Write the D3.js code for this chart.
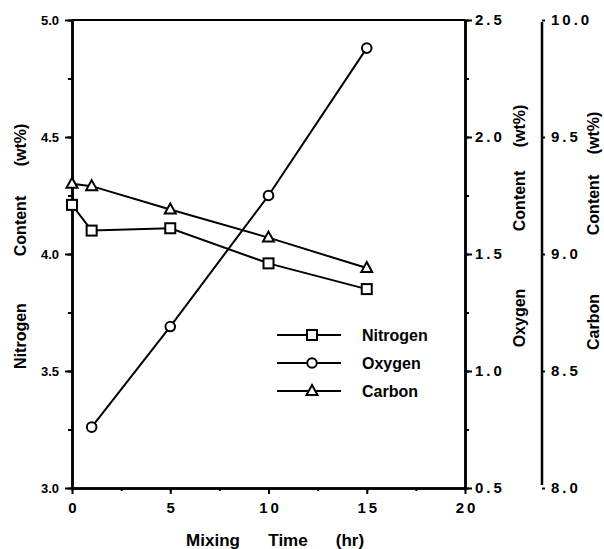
<!DOCTYPE html>
<html>
<head>
<meta charset="utf-8">
<script src="https://cdn.jsdelivr.net/npm/d3@7"></script>
<style>
  body { margin: 0; background: #fff; }
  text { font-family: "Liberation Sans", Arial, sans-serif; font-weight: bold; fill: #000; }
</style>
</head>
<body>
<div id="chart"></div>
<script>
// data
const times = [0, 1, 5, 10, 15];
const nitrogen = [4.21, 4.10, 4.11, 3.96, 3.85];
const oxygenTimes = [1, 5, 10, 15];
const oxygen = [0.76, 1.19, 1.75, 2.38];
const carbon = [9.30, 9.29, 9.19, 9.07, 8.94];

const xTicks = [0, 5, 10, 15, 20];
const nTicks = [3.0, 3.5, 4.0, 4.5, 5.0];
const oTicks = [0.5, 1.0, 1.5, 2.0, 2.5];
const cTicks = [8.0, 8.5, 9.0, 9.5, 10.0];

const width = 604, height = 549;
const plotLeft = 72, plotRight = 465, plotTop = 20, plotBottom = 488;
const axis3 = 542;

const svg = d3.select("#chart").append("svg")
  .attr("width", width)
  .attr("height", height);

const x = d3.scaleLinear().domain([0, 20]).range([plotLeft, plotRight]);
const yN = d3.scaleLinear().domain([3, 5]).range([plotBottom, plotTop]);
const yO = d3.scaleLinear().domain([0.5, 2.5]).range([plotBottom, plotTop]);
const yC = d3.scaleLinear().domain([8, 10]).range([plotBottom, plotTop]);

function styleAxis(g) {
  g.selectAll("path, line").attr("stroke", "#000");
  g.select(".domain").attr("stroke-width", 2.5);
  g.selectAll(".tick line").attr("stroke-width", 2);
  g.selectAll("text").attr("fill", "#000");
}

// minor ticks first
svg.append("g")
  .attr("transform", `translate(0,${plotBottom})`)
  .call(d3.axisBottom(x).tickValues(d3.range(0, 20.1, 2.5)).tickSize(3).tickFormat("").tickSizeOuter(0))
  .call(styleAxis);
svg.append("g")
  .attr("transform", `translate(${plotLeft},0)`)
  .call(d3.axisLeft(yN).tickValues(d3.range(3, 5.01, 0.25)).tickSize(4).tickFormat("").tickSizeOuter(0))
  .call(styleAxis);
svg.append("g")
  .attr("transform", `translate(${plotRight},0)`)
  .call(d3.axisRight(yO).tickValues(d3.range(0.5, 2.51, 0.25)).tickSize(4).tickFormat("").tickSizeOuter(0))
  .call(styleAxis);

// major axes
svg.append("g")
  .attr("transform", `translate(0,${plotBottom})`)
  .call(d3.axisBottom(x).tickValues(xTicks).tickSize(6).tickPadding(8).tickSizeOuter(0)
    .tickFormat(d => d))
  .call(styleAxis)
  .call(g => g.selectAll("text").attr("font-size", 15).attr("letter-spacing", "3px").attr("dx", "1.5px"));

svg.append("g")
  .attr("transform", `translate(${plotLeft},0)`)
  .call(d3.axisLeft(yN).tickValues(nTicks).tickSize(7).tickPadding(6).tickSizeOuter(0)
    .tickFormat(d3.format(".1f")))
  .call(styleAxis)
  .call(g => g.selectAll("text").attr("font-size", 13));

svg.append("g")
  .attr("transform", `translate(${plotRight},0)`)
  .call(d3.axisRight(yO).tickValues(oTicks).tickSize(7).tickPadding(3).tickSizeOuter(0)
    .tickFormat(d3.format(".1f")))
  .call(styleAxis)
  .call(g => g.selectAll("text").attr("font-size", 15).attr("letter-spacing", "3px"));

svg.append("g")
  .attr("transform", `translate(${axis3},0)`)
  .call(d3.axisRight(yC).tickValues(cTicks).tickSize(3).tickPadding(6).tickSizeOuter(0)
    .tickFormat(d3.format(".1f")))
  .call(styleAxis)
  .call(g => g.select(".domain").remove())
  .call(g => g.selectAll("text").attr("font-size", 15).attr("letter-spacing", "3px"));
svg.append("line")
  .attr("x1", axis3).attr("x2", axis3)
  .attr("y1", yC(10) + 2).attr("y2", yC(8) - 3)
  .attr("stroke", "#000").attr("stroke-width", 2.5);

// top frame line
svg.append("line")
  .attr("x1", plotLeft).attr("x2", plotRight)
  .attr("y1", plotTop).attr("y2", plotTop)
  .attr("stroke", "#000").attr("stroke-width", 2);

// series
const nData = times.map((t, i) => ({ t, v: nitrogen[i] }));
const oData = oxygenTimes.map((t, i) => ({ t, v: oxygen[i] }));
const cData = times.map((t, i) => ({ t, v: carbon[i] }));

const series = [
  { name: "Nitrogen", data: nData, y: yN, shape: "square" },
  { name: "Oxygen", data: oData, y: yO, shape: "circle" },
  { name: "Carbon", data: cData, y: yC, shape: "triangle" }
];

function drawMarker(g, shape, cx, cy) {
  if (shape === "square") {
    g.append("rect").attr("x", cx - 5).attr("y", cy - 5).attr("width", 10).attr("height", 10);
  } else if (shape === "circle") {
    g.append("circle").attr("cx", cx).attr("cy", cy).attr("r", 4.8);
  } else {
    g.append("path").attr("d", `M${cx},${cy - 6}L${cx + 5.5},${cy + 4}L${cx - 5.5},${cy + 4}Z`);
  }
}

series.forEach(s => {
  const line = d3.line().x(d => x(d.t)).y(d => s.y(d.v));
  svg.append("path")
    .datum(s.data)
    .attr("d", line)
    .attr("fill", "none")
    .attr("stroke", "#000")
    .attr("stroke-width", 2);
  const mg = svg.append("g").attr("fill", "#fff").attr("stroke", "#000").attr("stroke-width", 2);
  s.data.forEach(d => drawMarker(mg, s.shape, x(d.t), s.y(d.v)));
});

// legend
const legend = svg.append("g");
series.forEach((s, i) => {
  const ly = 335 + i * 28;
  legend.append("line")
    .attr("x1", 277).attr("x2", 341).attr("y1", ly).attr("y2", ly)
    .attr("stroke", "#000").attr("stroke-width", 2);
  const mg = legend.append("g").attr("fill", "#fff").attr("stroke", "#000").attr("stroke-width", 2);
  drawMarker(mg, s.shape, 312, ly);
  legend.append("text")
    .attr("x", 362).attr("y", ly + 5.5)
    .attr("font-size", 16)
    .text(s.name);
});

// axis titles, words spread out as in the original
function vTitle(cx, words) {
  words.forEach(([w, cy]) => {
    svg.append("text")
      .attr("transform", `translate(${cx},${cy}) rotate(-90)`)
      .attr("text-anchor", "middle")
      .attr("dy", "0.35em")
      .attr("font-size", 16)
      .text(w);
  });
}
vTitle(20, [["Nitrogen", 336], ["Content", 226], ["(wt%)", 145]]);
vTitle(519, [["Oxygen", 318], ["Content", 201], ["(wt%)", 126]]);
vTitle(593, [["Carbon", 322], ["Content", 205], ["(wt%)", 133]]);

[["Mixing", 213], ["Time", 288], ["(hr)", 350]].forEach(([w, cx]) => {
  svg.append("text")
    .attr("x", cx).attr("y", 546)
    .attr("text-anchor", "middle")
    .attr("font-size", 17)
    .text(w);
});
</script>
</body>
</html>
